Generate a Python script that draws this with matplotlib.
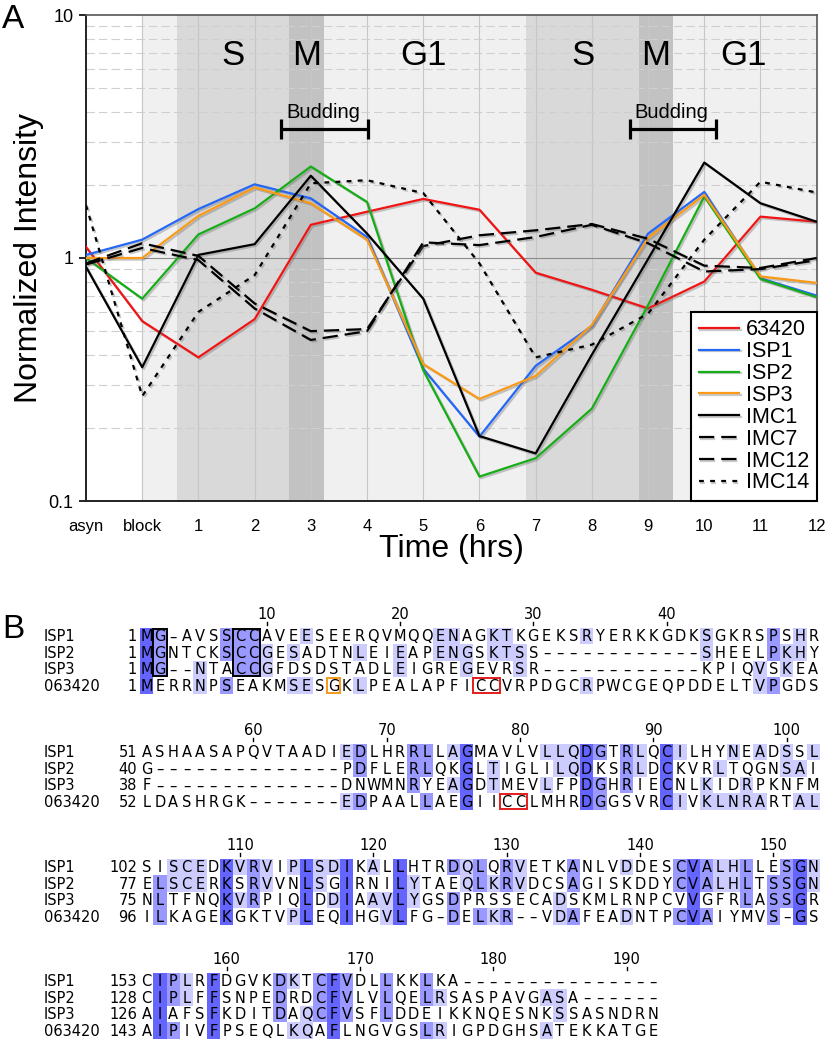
import matplotlib
matplotlib.use('Agg')
import matplotlib.pyplot as plt
import matplotlib.patheffects as pe
from matplotlib.patches import Rectangle
from collections import Counter

plt.rcParams['font.family'] = ['Liberation Sans', 'DejaVu Sans']
plt.rcParams['lines.scale_dashes'] = False

# ---------------- panel A data ----------------
time_labels = ['asyn', 'block', '1', '2', '3', '4', '5', '6', '7', '8', '9', '10', '11', '12']

vals_63420 = [1.11, 0.55, 0.39, 0.56, 1.37, 1.55, 1.75, 1.58, 0.87, 0.74, 0.62, 0.80, 1.48, 1.41]
vals_isp1 = [1.03, 1.19, 1.59, 2.01, 1.76, 1.22, 0.35, 0.184, 0.36, 0.525, 1.26, 1.87, 0.825, 0.70]
vals_isp2 = [1.00, 0.68, 1.25, 1.60, 2.38, 1.70, 0.345, 0.126, 0.150, 0.24, 0.64, 1.79, 0.82, 0.69]
vals_isp3 = [1.00, 1.00, 1.49, 1.95, 1.68, 1.19, 0.366, 0.263, 0.327, 0.53, 1.21, 1.82, 0.84, 0.79]
vals_imc1 = [0.92, 0.355, 1.03, 1.14, 2.18, 1.26, 0.68, 0.185, 0.157, 0.40, 0.99, 2.47, 1.68, 1.41]
vals_imc7 = [0.95, 1.15, 1.02, 0.65, 0.50, 0.51, 1.12, 1.24, 1.30, 1.38, 1.20, 0.93, 0.91, 1.00]
vals_imc12 = [0.94, 1.10, 0.98, 0.62, 0.46, 0.50, 1.16, 1.13, 1.22, 1.37, 1.15, 0.88, 0.90, 0.98]
vals_imc14 = [1.65, 0.27, 0.60, 0.85, 2.03, 2.09, 1.85, 0.95, 0.39, 0.44, 0.59, 1.19, 2.06, 1.86]

series_names = ['63420', 'ISP1', 'ISP2', 'ISP3', 'IMC1', 'IMC7', 'IMC12', 'IMC14']
series_vals = [vals_63420, vals_isp1, vals_isp2, vals_isp3, vals_imc1, vals_imc7, vals_imc12, vals_imc14]
series_colors = ['#f01414', '#2466f5', '#16ad16', '#fa9a16', 'black', 'black', 'black', 'black']
series_dashes = [None, None, None, None, None, (11, 5), (11, 5), (3.5, 4.5)]

phase_names = ['S', 'M', 'G1', 'S', 'M', 'G1']

# ---------------- panel B data ----------------
seq_names = ['ISP1', 'ISP2', 'ISP3', '063420']
seq_isp1 = ("MG-AVSSCCAVEESEERQVMQQENAGKTKGEKSRYERKKGDKSGKRSPSHR"
            "ASHAASAPQVTAADIEDLHRRLLAGMAVLVLLQDGTRLQCILHYNEADSSL"
            "SISCEDKVRVIPLSDIKALLHTRDQLQRVETKANLVDDESCVALHLLESGN"
            "CIPLRFDGVKDKTCFVDLLKKLKA" + "-" * 15)
seq_isp2 = ("MGNTCKSCCGESADTNLEIEAPENGSKTSS" + "-" * 12 + "SHEELPKHY"
            "G" + "-" * 14 + "PDFLERLQKGLTIGLILQDKSRLDCKVRLTQGNSAI"
            "ELSCERKSRVVNLSGIRNILYTAEQLKRVDCSAGISKDDYCVALHLTSSGN"
            "CIPLFFSNPEDRDCFVLVLQELRSASPAVGASA" + "-" * 6)
seq_isp3 = ("MG--NTACCGFDSDSTADLEIGREGEVRSR" + "-" * 12 + "KPIQVSKEA"
            "F" + "-" * 14 + "DNWMNRYEAGDTMEVLFPDGHRIECNLKIDRPKNFM"
            "NLTFNQKVRPIQLDDIAAVLYGSDPRSSECADSKMLRNPCVVGFRLASSGR"
            "AIAFSFKDITDAQCFVSFLDDEIKKNQESNKSSASNDRN")
seq_063420 = ("MERRNPSEAKMSESGKLPEALAPFICCVRPDGCRPWCGEQPDDELTVPGDS"
              "LDASHRGK" + "-" * 7 + "EDPAALLAEGIICCLMHRDGGSVRCIVKLNRARTAL"
              "ILKAGEKGKTVPLEQIHGVLFG-DELKR--VDAFEADNTPCVAIYMVS-GS"
              "AIPIVFPSEQLKQAFLNGVGSLRIGPDGHSATEKKATGE")
sequences = [seq_isp1, seq_isp2, seq_isp3, seq_063420]
ruler_numbers = [10, 20, 30, 40, 60, 70, 80, 90, 100, 110, 120, 130, 140, 150, 160, 170, 180, 190]
# (first column, last column, first row, last row, colour)
boxes = [(2, 2, 0, 2, 'black'), (8, 9, 0, 2, 'black'), (15, 15, 3, 3, '#f39a1e'),
         (26, 27, 3, 3, '#e51c1c'), (79, 80, 3, 3, '#e51c1c')]
wrap = 51

fig = plt.figure(figsize=(8.26, 10.5), dpi=100)

# ================= panel A =================
ax = fig.add_axes([86 / 826, 1 - 501 / 1050, (816.7 - 86) / 826, (501 - 15) / 1050])
ax.set_yscale('log')
ax.set_xlim(0, 13)
ax.set_ylim(0.1, 10)

ax.axvspan(1, 13, color='#f0f0f0', lw=0, zorder=0)
for a, b in [(1.615, 3.61), (7.82, 9.83)]:
    ax.axvspan(a, b, color='#d9d9d9', lw=0, zorder=0)
for a, b in [(3.61, 4.23), (9.83, 10.45)]:
    ax.axvspan(a, b, color='#c2c2c2', lw=0, zorder=0)

for xi in range(1, 13):
    ax.axvline(xi, color='#c6c6c6', lw=0.8, zorder=0.5)
for dec in (0.1, 1):
    for m in range(2, 10):
        ax.axhline(dec * m, color='#cfcfcf', lw=0.8, ls=(0, (6, 3)), zorder=0.5)
ax.axhline(1, color='#8a8a8a', lw=0.8, zorder=0.5)

xs = list(range(len(time_labels)))
shadow = [pe.SimpleLineShadow(offset=(1.2, -1.2), shadow_color='#666666', alpha=0.35), pe.Normal()]
for name, vals, col, dash in zip(series_names, series_vals, series_colors, series_dashes):
    line, = ax.plot(xs, vals, color=col, lw=1.6, label=name, path_effects=shadow, zorder=3)
    if dash:
        line.set_dashes(dash)

for name, xp in zip(phase_names, [2.62, 3.92, 6.0, 8.84, 10.13, 11.7]):
    ax.text(xp, 6.2, name, fontsize=25, ha='center', va='baseline', zorder=4)

for x0, x1 in [(3.47, 5.02), (9.68, 11.2)]:
    ax.errorbar((x0 + x1) / 2, 3.38, xerr=(x1 - x0) / 2, fmt='none', ecolor='black',
                elinewidth=2.3, capsize=7, capthick=2.3, zorder=4)
    ax.text((x0 + x1) / 2 - 0.03, 3.76, 'Budding', fontsize=14.5, ha='center', va='baseline', zorder=4)

ax.set_xticks(xs)
ax.set_xticklabels(time_labels, fontsize=12)
ax.tick_params(axis='x', length=0, pad=13)
ax.set_yticks([0.1, 1, 10])
ax.set_yticklabels(['0.1', '1', '10'], fontsize=13)
ax.tick_params(axis='y', which='major', length=5, width=1.2, pad=4)
ax.tick_params(axis='y', which='minor', length=0)

for side in ['left', 'bottom']:
    ax.spines[side].set_linewidth(1.4)
    ax.spines[side].set_color('#222222')
for side in ['top', 'right']:
    ax.spines[side].set_linewidth(1.2)
    ax.spines[side].set_color('#555555')

ax.set_ylabel('Normalized Intensity', fontsize=23)
ax.yaxis.set_label_coords(-0.058, 0.5)
ax.set_xlabel('Time (hrs)', fontsize=23)
ax.xaxis.set_label_coords(0.5, -0.068)

leg = ax.legend(loc='lower right', fontsize=15.5, frameon=True, fancybox=False, edgecolor='black',
                borderaxespad=0, handlelength=1.9, handletextpad=0.3, labelspacing=0.04, borderpad=0.35)
leg.get_frame().set_linewidth(1.5)
leg.get_frame().set_alpha(1)
leg.set_zorder(10)

fig.text(2 / 826, 1 - 28 / 1050, 'A', fontsize=24, ha='left', va='baseline')

# ================= panel B =================
axb = fig.add_axes([0, 0, 1, 450 / 1050])
axb.set_xlim(0, 826)
axb.set_ylim(1050, 600)
axb.axis('off')

axb.text(2, 638, 'B', fontsize=24, ha='left', va='baseline')

col_w = 13.33
row_h = 16.5
first_x = 146.7
block_y = [636, 752, 867, 981]
shade_cols = {4: '#6464ff', 3: '#9999ff', 2: '#ccccff'}
bfont = ['DejaVu Sans']
bsize = 10.5
n_cols = len(seq_isp1)


def col_x(c):
    return first_x + ((c - 1) % wrap) * col_w


def row_y(c, r):
    return block_y[(c - 1) // wrap] + r * row_h


# percent identity shading
for c in range(1, n_cols + 1):
    column = [s[c - 1] for s in sequences]
    counts = Counter(ch for ch in column if ch != '-').most_common()
    if not counts or (len(counts) > 1 and counts[0][1] == counts[1][1]):
        continue
    res, n = counts[0]
    if n < 2:
        continue
    for r, ch in enumerate(column):
        if ch == res:
            axb.add_patch(Rectangle((col_x(c) - col_w / 2, row_y(c, r) - row_h / 2), col_w, row_h,
                                    facecolor=shade_cols[n], edgecolor='none', zorder=1))

# residues, names and start numbers
for b in range(len(block_y)):
    first = b * wrap + 1
    last = min((b + 1) * wrap, n_cols)
    for r, (name, s) in enumerate(zip(seq_names, sequences)):
        y = block_y[b] + r * row_h
        start = len(s[:first - 1].replace('-', '')) + 1
        axb.text(44, y + 5.3, name, fontsize=bsize, family=bfont, ha='left', va='baseline')
        axb.text(137, y + 5.3, str(start), fontsize=bsize, family=bfont, ha='right', va='baseline')
        for c in range(first, last + 1):
            ch = s[c - 1]
            axb.text(col_x(c), y + 5.3, ch if ch != '-' else '\u2013', fontsize=bsize,
                     family=bfont, ha='center', va='baseline', zorder=3)

for num in ruler_numbers:
    xr = col_x(num)
    yr = block_y[(num - 1) // wrap]
    axb.text(xr, yr - 17, str(num), fontsize=bsize, family=bfont, ha='center', va='baseline')
    axb.plot([xr, xr], [yr - 14.5, yr - 11], color='black', lw=1)

for c0, c1, r0, r1, colr in boxes:
    x0 = col_x(c0) - col_w / 2
    y0 = row_y(c0, r0) - row_h / 2 + 1
    axb.add_patch(Rectangle((x0, y0), (c1 - c0 + 1) * col_w, (r1 - r0 + 1) * row_h - 2,
                            facecolor='none', edgecolor=colr, lw=1.4, zorder=4))

fig.savefig('out.png', dpi=100)
